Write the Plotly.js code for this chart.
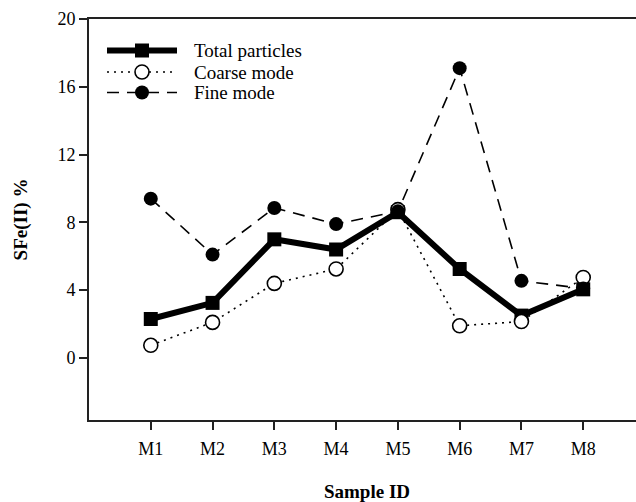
<!DOCTYPE html>
<html>
<head>
<meta charset="utf-8">
<script src="https://cdn.plot.ly/plotly-3.0.1.min.js"></script>
<style>
html,body{margin:0;padding:0;overflow:hidden;background:#fff;}
#chart{width:660px;height:502px;}
</style>
</head>
<body>
<div id="chart"></div>
<script>
var samples = ["M1","M2","M3","M4","M5","M6","M7","M8"];
var totalParticles = [2.3, 3.25, 7.0, 6.4, 8.6, 5.25, 2.5, 4.05];
var coarseMode = [0.75, 2.1, 4.4, 5.25, 8.75, 1.9, 2.15, 4.75];
var fineMode = [9.4, 6.1, 8.85, 7.9, 8.65, 17.1, 4.55, 4.1];
var seriesNames = ["Total particles", "Coarse mode", "Fine mode"];

var fontFam = "Liberation Serif, Times New Roman, serif";

var totalStyle = {line: {color: "#000", width: 6}, marker: {symbol: "square", size: 14, color: "#000"}};
var coarseStyle = {line: {color: "#000", width: 1.6, dash: "2px,5px"}, marker: {symbol: "circle", size: 14, color: "#fff", line: {color: "#000", width: 1.6}}};
var fineStyle = {line: {color: "#000", width: 1.6, dash: "12px,8px"}, marker: {symbol: "circle", size: 14, color: "#000"}};

var traces = [
  {x: samples, y: totalParticles, name: seriesNames[0], type: "scatter", mode: "lines+markers", line: totalStyle.line, marker: totalStyle.marker},
  {x: samples, y: coarseMode, name: seriesNames[1], type: "scatter", mode: "lines+markers", line: coarseStyle.line, marker: coarseStyle.marker},
  {x: samples, y: fineMode, name: seriesNames[2], type: "scatter", mode: "lines+markers", line: fineStyle.line, marker: fineStyle.marker}
];

// Hand-built legend (long line samples like the original)
var plotL = 89, plotW = 556, plotT = 19, plotH = 401;
function px(x) { return (x - plotL) / plotW; }
function py(y) { return (plotT + plotH - y) / plotH; }
var legRows = [50.5, 72, 92.5];
var legX0 = 107, legX1 = 177, legMid = 142, legText = 192;
var styles = [totalStyle, coarseStyle, fineStyle];
var shapes = [], annotations = [];
styles.forEach(function (s, i) {
  shapes.push({type: "line", xref: "paper", yref: "paper", x0: px(legX0), x1: px(legX1), y0: py(legRows[i]), y1: py(legRows[i]),
    line: {color: "#000", width: s.line.width, dash: s.line.dash || "solid"}});
  var m = s.marker, r = m.size / 2;
  shapes.push({type: m.symbol === "square" ? "rect" : "circle", xref: "paper", yref: "paper",
    xsizemode: "pixel", ysizemode: "pixel", xanchor: px(legMid), yanchor: py(legRows[i]),
    x0: -r, x1: r, y0: -r, y1: r,
    fillcolor: m.color, line: {color: "#000", width: m.line ? m.line.width : 0}});
  annotations.push({xref: "paper", yref: "paper", x: px(legText), y: py(legRows[i]), xanchor: "left", yanchor: "middle",
    text: seriesNames[i], showarrow: false, font: {family: fontFam, size: 19, color: "#000"}});
});

var layout = {
  width: 660, height: 502,
  margin: {l: 89, r: 15, t: 19, b: 82},
  paper_bgcolor: "#fff", plot_bgcolor: "#fff",
  font: {family: fontFam, size: 18, color: "#000"},
  showlegend: false,
  shapes: shapes,
  annotations: annotations,
  xaxis: {
    type: "category",
    range: [-1, 8],
    showgrid: false, zeroline: false,
    showline: true, linecolor: "#222", linewidth: 2, mirror: true,
    ticks: "outside", ticklen: 8, tickwidth: 2, tickcolor: "#222",
    ticklabelstandoff: 3,
    tickfont: {family: fontFam, size: 18, color: "#000"},
    title: {text: "<b>Sample ID</b>", font: {family: fontFam, size: 19, color: "#000"}, standoff: 27}
  },
  yaxis: {
    range: [-3.66, 20],
    tickvals: [0, 4, 8, 12, 16, 20],
    showgrid: false, zeroline: false,
    showline: true, linecolor: "#222", linewidth: 2, mirror: true,
    ticks: "outside", ticklen: 8, tickwidth: 2, tickcolor: "#222",
    tickfont: {family: fontFam, size: 18, color: "#000"},
    title: {text: "<b>SFe(II) %</b>", font: {family: fontFam, size: 19, color: "#000"}, standoff: 25}
  }
};

Plotly.newPlot("chart", traces, layout, {displayModeBar: false, staticPlot: true});
</script>
</body>
</html>
